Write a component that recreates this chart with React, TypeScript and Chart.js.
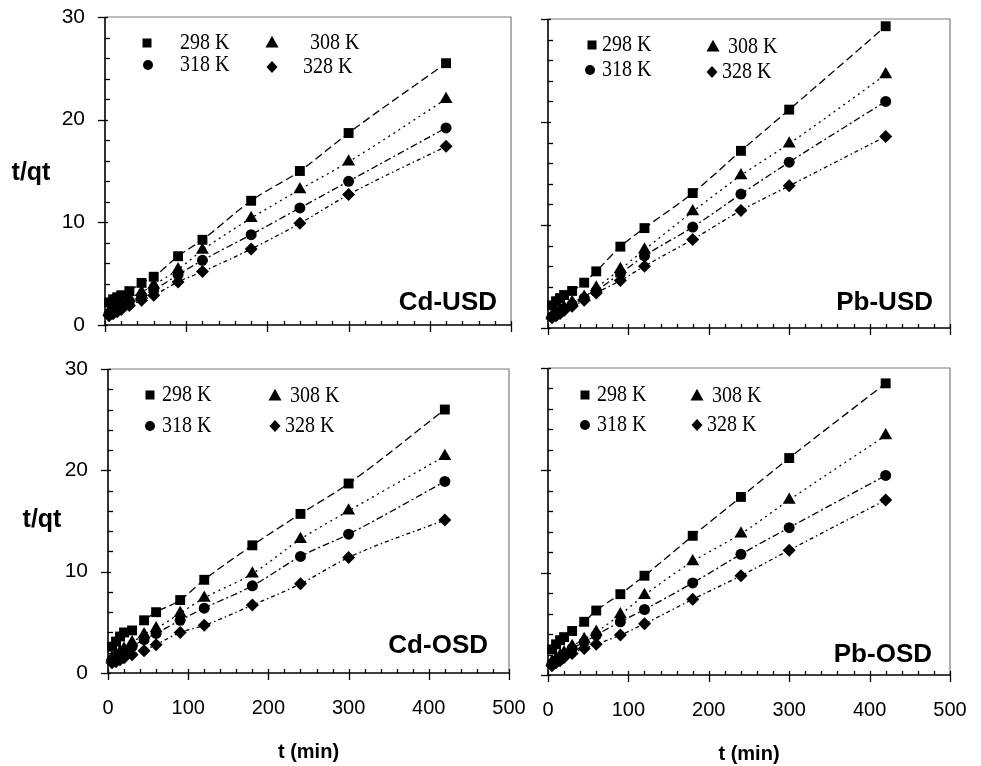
import React, { useEffect, useRef } from 'react';
import { Chart, registerables } from 'chart.js';

Chart.register(...registerables);

// ---------- data ----------
const times = [5, 10, 15, 20, 30, 45, 60, 90, 120, 180, 240, 300, 420];
const seriesLabels = ['298 K', '308 K', '318 K', '328 K'];
const panelNames = ['Cd-USD', 'Pb-USD', 'Cd-OSD', 'Pb-OSD'];
const xTitle = 't (min)';
const yTitle = 't/qt';
const xMin = 0, xMax = 500, xStep = 100, xMinorStep = 20;
const yMin = 0, yMax = 30, yStep = 10, yMinorStep = 2;

const cdUsd298 = [2.2, 2.5, 2.7, 2.9, 3.3, 4.1, 4.7, 6.7, 8.3, 12.1, 15.0, 18.7, 25.5];
const cdUsd308 = [1.3, 1.6, 1.9, 2.1, 2.6, 3.2, 3.9, 5.4, 7.3, 10.4, 13.2, 15.9, 22.0];
const cdUsd318 = [1.1, 1.3, 1.6, 1.9, 2.3, 2.8, 3.4, 4.9, 6.3, 8.8, 11.4, 14.0, 19.2];
const cdUsd328 = [0.9, 1.1, 1.3, 1.5, 1.9, 2.4, 2.9, 4.2, 5.2, 7.4, 9.9, 12.7, 17.4];

const pbUsd298 = [2.2, 2.6, 2.9, 3.2, 3.6, 4.4, 5.5, 7.9, 9.7, 13.1, 17.2, 21.2, 29.3];
const pbUsd308 = [1.2, 1.5, 1.8, 2.0, 2.5, 3.0, 3.9, 5.7, 7.6, 11.3, 14.8, 17.9, 24.6];
const pbUsd318 = [1.1, 1.3, 1.6, 1.9, 2.3, 2.9, 3.6, 5.3, 7.0, 9.8, 13.0, 16.1, 22.0];
const pbUsd328 = [1.0, 1.2, 1.4, 1.7, 2.1, 2.7, 3.4, 4.6, 6.0, 8.6, 11.4, 13.8, 18.6];

const cdOsd298 = [2.6, 3.1, 3.6, 4.0, 4.2, 5.2, 6.0, 7.2, 9.2, 12.6, 15.7, 18.7, 26.0];
const cdOsd308 = [1.5, 1.8, 2.1, 2.4, 3.0, 3.8, 4.4, 5.9, 7.4, 9.8, 13.2, 16.0, 21.4];
const cdOsd318 = [1.3, 1.5, 1.8, 2.1, 2.6, 3.3, 3.9, 5.2, 6.4, 8.6, 11.5, 13.7, 18.9];
const cdOsd328 = [1.0, 1.1, 1.3, 1.5, 1.8, 2.2, 2.8, 4.0, 4.7, 6.7, 8.8, 11.4, 15.1];

const pbOsd298 = [2.5, 3.0, 3.4, 3.7, 4.3, 5.2, 6.3, 7.9, 9.7, 13.6, 17.4, 21.2, 28.5];
const pbOsd308 = [1.3, 1.6, 1.9, 2.2, 2.8, 3.5, 4.2, 5.9, 7.8, 11.1, 13.8, 17.1, 23.4];
const pbOsd318 = [1.1, 1.4, 1.7, 2.0, 2.6, 3.2, 3.9, 5.2, 6.4, 9.0, 11.8, 14.4, 19.5];
const pbOsd328 = [0.9, 1.2, 1.4, 1.7, 2.1, 2.6, 3.0, 3.9, 5.0, 7.4, 9.7, 12.2, 17.1];

// ---------- styles / layout ----------
const markerStyles = ['rect', 'triangle', 'circle', 'rectRot'];
const markerRadii = [7, 7.5, 5.5, 6.5];
const legendSizes = [9, 13, 10, 11];
const dashes = [[8, 4], [2, 4], [7, 3, 2, 3], [4, 3, 1.5, 3]];

type Panel = {
  name: string;
  series: number[][];
  box: { x: number; y: number; w: number; h: number };
  area: { l: number; t: number; r: number; b: number };
  showX: boolean;
  showY: boolean;
  legend: number[][]; // [markerDx, markerDy, textDx]
  label: { dx: number; dy: number };
  yLab?: { dx: number; dy: number };
};

const panels: Panel[] = [
  {
    name: panelNames[0],
    series: [cdUsd298, cdUsd308, cdUsd318, cdUsd328],
    box: { x: 0, y: 0, w: 530, h: 340 },
    area: { l: 105, t: 17, r: 511, b: 325 },
    showX: false, showY: true,
    legend: [[42, 26, 75], [167, 26, 205], [43, 48, 75], [167, 50, 198]],
    label: { dx: 14, dy: 15 },
    yLab: { dx: -74, dy: 156 },
  },
  {
    name: panelNames[1],
    series: [pbUsd298, pbUsd308, pbUsd318, pbUsd328],
    box: { x: 530, y: 0, w: 451, h: 340 },
    area: { l: 548, t: 19, r: 950, b: 328 },
    showX: false, showY: false,
    legend: [[44, 26, 54], [165, 28, 180], [42, 51, 54], [164, 53, 174]],
    label: { dx: 17, dy: 18 },
  },
  {
    name: panelNames[2],
    series: [cdOsd298, cdOsd308, cdOsd318, cdOsd328],
    box: { x: 0, y: 345, w: 530, h: 421 },
    area: { l: 108, t: 369, r: 509, b: 673 },
    showX: true, showY: true,
    legend: [[42, 26, 54], [167, 27, 182], [42, 57, 54], [167, 57, 177]],
    label: { dx: 21, dy: 20 },
    yLab: { dx: -66, dy: 151 },
  },
  {
    name: panelNames[3],
    series: [pbOsd298, pbOsd308, pbOsd318, pbOsd328],
    box: { x: 530, y: 345, w: 451, h: 421 },
    area: { l: 548, t: 368, r: 950, b: 675 },
    showX: true, showY: false,
    legend: [[37, 27, 49], [149, 28, 164], [37, 57, 49], [149, 57, 159]],
    label: { dx: 18, dy: 13 },
  },
];

const Y_AXIS_W = 60;
const X_AXIS_H = 91;

function drawMarker(ctx: CanvasRenderingContext2D, style: string, cx: number, cy: number, s: number) {
  ctx.beginPath();
  if (style === 'rect') {
    ctx.rect(cx - s / 2, cy - s / 2, s, s);
  } else if (style === 'triangle') {
    ctx.moveTo(cx, cy - s * 0.55);
    ctx.lineTo(cx + s / 2, cy + s * 0.35);
    ctx.lineTo(cx - s / 2, cy + s * 0.35);
    ctx.closePath();
  } else if (style === 'circle') {
    ctx.arc(cx, cy, s / 2, 0, Math.PI * 2);
  } else {
    ctx.moveTo(cx, cy - s * 0.55);
    ctx.lineTo(cx + s / 2, cy);
    ctx.lineTo(cx, cy + s * 0.55);
    ctx.lineTo(cx - s / 2, cy);
    ctx.closePath();
  }
  ctx.fill();
}

const decoPlugin = {
  id: 'deco',
  beforeDatasetsDraw(chart: any) {
    const { ctx, chartArea, scales } = chart;
    const { left, right, top, bottom } = chartArea;
    const x = scales.x, y = scales.y;
    ctx.save();
    ctx.strokeStyle = '#7d7d7d';
    ctx.lineWidth = 1.2;
    ctx.beginPath();
    ctx.moveTo(left, top);
    ctx.lineTo(right, top);
    ctx.lineTo(right, bottom);
    ctx.stroke();
    ctx.strokeStyle = '#000';
    ctx.lineWidth = 1.6;
    ctx.beginPath();
    ctx.moveTo(left, top);
    ctx.lineTo(left, bottom);
    ctx.lineTo(right, bottom);
    ctx.stroke();
    ctx.lineWidth = 1.3;
    for (let v = yMin; v <= yMax; v += yMinorStep) {
      const py = Math.round(y.getPixelForValue(v)) + 0.5;
      const major = v % yStep === 0;
      ctx.beginPath();
      ctx.moveTo(major ? left - 7 : left, py);
      ctx.lineTo(left + (major ? 3 : 5), py);
      ctx.stroke();
    }
    for (let v = xMin; v <= xMax; v += xMinorStep) {
      const px = Math.round(x.getPixelForValue(v)) + 0.5;
      const major = v % xStep === 0;
      ctx.beginPath();
      ctx.moveTo(px, bottom - 4);
      ctx.lineTo(px, major ? bottom + 7 : bottom);
      ctx.stroke();
    }
    ctx.restore();
  },
  afterDraw(chart: any, _args: any, opts: any) {
    const { ctx, chartArea } = chart;
    const { left, right, top, bottom } = chartArea;
    const p: Panel = opts.panel;
    ctx.save();
    ctx.fillStyle = '#000';
    // legend
    p.legend.forEach((item, i) => {
      const [mdx, mdy, tdx] = item;
      drawMarker(ctx, markerStyles[i], left + mdx, top + mdy, legendSizes[i]);
      ctx.save();
      ctx.translate(left + tdx, top + mdy);
      ctx.scale(1, 1.18);
      ctx.font = '20px "Liberation Serif"';
      ctx.textAlign = 'left';
      ctx.textBaseline = 'middle';
      ctx.fillText(seriesLabels[i], 0, 0);
      ctx.restore();
    });
    // panel label
    ctx.font = 'bold 26px "Liberation Sans"';
    ctx.textAlign = 'right';
    ctx.textBaseline = 'alphabetic';
    ctx.fillText(p.name, right - p.label.dx, bottom - p.label.dy);
    // y title
    if (p.yLab) {
      ctx.font = 'bold 25px "Liberation Sans"';
      ctx.textAlign = 'center';
      ctx.textBaseline = 'middle';
      ctx.fillText(yTitle, left + p.yLab.dx, top + p.yLab.dy);
    }
    ctx.restore();
  },
};

function PanelChart({ p }: { p: Panel }) {
  const ref = useRef<HTMLCanvasElement | null>(null);
  useEffect(() => {
    if (!ref.current) return;
    const yW = p.showY ? Y_AXIS_W : 0;
    const xH = p.showX ? X_AXIS_H : 0;
    const padding = {
      left: p.area.l - p.box.x - yW,
      top: p.area.t - p.box.y,
      right: p.box.x + p.box.w - p.area.r,
      bottom: p.box.y + p.box.h - p.area.b - xH,
    };
    const datasets = p.series.map((vals, i) => ({
      label: seriesLabels[i],
      data: times.map((t, k) => ({ x: t, y: vals[k] })),
      showLine: true,
      borderColor: '#000',
      borderWidth: 1.3,
      borderDash: dashes[i],
      backgroundColor: '#000',
      pointBackgroundColor: '#000',
      pointBorderColor: '#000',
      pointBorderWidth: 0,
      pointStyle: markerStyles[i],
      pointRadius: markerRadii[i],
      cubicInterpolationMode: 'monotone',
      clip: false,
    }));
    const chart = new Chart(ref.current, {
      type: 'scatter',
      data: { datasets },
      options: {
        responsive: false,
        animation: false,
        devicePixelRatio: 1,
        layout: { padding },
        plugins: {
          legend: { display: false },
          tooltip: { enabled: false },
          deco: { panel: p },
        } as any,
        scales: {
          x: {
            type: 'linear',
            min: xMin,
            max: xMax,
            grid: { display: false, drawTicks: false },
            border: { display: false },
            ticks: {
              display: p.showX,
              stepSize: xStep,
              padding: 23,
              maxRotation: 0,
              autoSkip: false,
              color: '#000',
              font: { family: 'Liberation Sans', size: 20 },
            },
            title: {
              display: p.showX,
              text: xTitle,
              color: '#000',
              padding: 0,
              font: { family: 'Liberation Sans', size: 20, weight: 'bold' },
            },
            afterFit: (s: any) => {
              s.height = xH;
              s.paddingLeft = 0;
              s.paddingRight = 0;
            },
          },
          y: {
            type: 'linear',
            min: yMin,
            max: yMax,
            grid: { display: false, drawTicks: false },
            border: { display: false },
            ticks: {
              display: p.showY,
              stepSize: yStep,
              padding: 20,
              color: '#000',
              font: { family: 'Liberation Sans', size: 21 },
            },
            afterFit: (s: any) => {
              s.width = yW;
              s.paddingTop = 0;
              s.paddingBottom = 0;
            },
          },
        },
      } as any,
      plugins: [decoPlugin as any],
    });
    return () => chart.destroy();
  }, [p]);
  return (
    <canvas
      ref={ref}
      width={p.box.w}
      height={p.box.h}
      style={{ position: 'absolute', left: p.box.x, top: p.box.y, width: p.box.w, height: p.box.h }}
    />
  );
}

export default function App() {
  return (
    <div style={{ position: 'absolute', left: 0, top: 0, width: 981, height: 766, background: '#fff', overflow: 'hidden' }}>
      {panels.map((p) => (
        <PanelChart key={p.name} p={p} />
      ))}
    </div>
  );
}
